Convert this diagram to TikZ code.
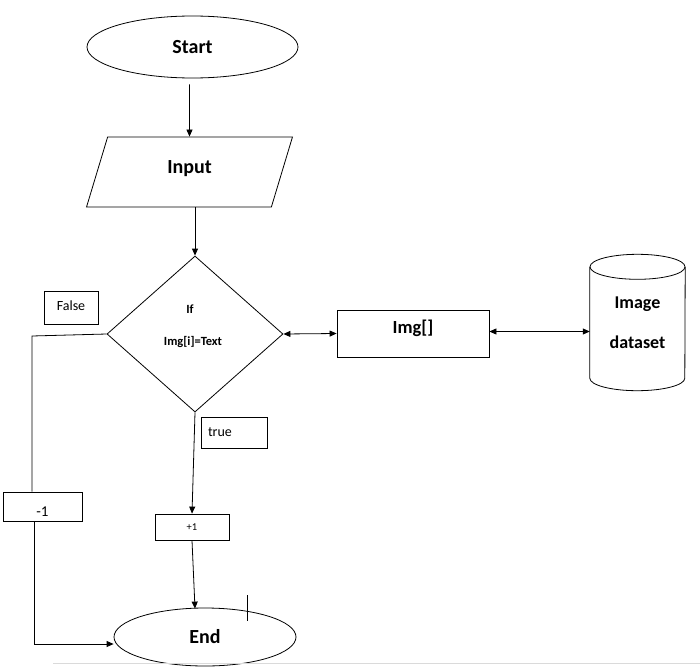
\documentclass[tikz,border=0pt]{standalone}
\usepackage{fontspec}
\setmainfont{Carlito}
\usetikzlibrary{arrows.meta,calc,shapes.geometric}
\definecolor{fcInk}{HTML}{000000}
\definecolor{fcRule}{HTML}{DADADA}
\tikzset{
 chart/.style={line cap=butt,line join=miter,text=fcInk},
 terminal/.style={ellipse,draw=fcInk,line width=.8pt,inner sep=0pt,
   font=\fontsize{20}{24}\selectfont\bfseries},
 iobox/.style={trapezium,trapezium left angle=76,trapezium right angle=104,
   trapezium stretches=true,draw=fcInk,line width=.8pt,inner sep=0pt,
   font=\fontsize{20}{24}\selectfont\bfseries},
 decision/.style={diamond,draw=fcInk,line width=.8pt,inner sep=0pt},
 condtext/.style={font=\fontsize{12.5}{15}\selectfont\bfseries,inner sep=0pt},
 process/.style={rectangle,draw=fcInk,line width=.8pt,inner sep=0pt,
   font=\fontsize{18.5}{22}\selectfont\bfseries},
 tag/.style={rectangle,draw=fcInk,line width=.8pt,inner sep=0pt,
   font=\fontsize{14}{16}\selectfont},
 store/.style={rectangle,inner sep=0pt,align=center,
   font=\fontsize{18}{40}\selectfont\bfseries},
 link/.style={draw=fcInk,line width=.8pt},
 flow/.style={link,-{Triangle[length=7pt,width=6pt]}},
 twoway/.style={link,{Triangle[length=7pt,width=6pt]}-{Triangle[length=7pt,width=6pt]}}
}

\begin{document}
\begin{tikzpicture}[chart,x=1pt,y=-1pt]
 \useasboundingbox (0,0) rectangle (700,671);
 % main column
 \node[terminal,minimum width=211,minimum height=62] (start) at (192.5,47) {\raisebox{1pt}{Start}};
 \node[iobox,minimum width=207,minimum height=70] (input) at (189.5,172) {\raisebox{10pt}{Input}};
 \node[decision,minimum width=176,minimum height=156] (cond) at (195,334) {};
 \node[condtext] (condIf) at (190,309) {If};
 \node[condtext] (condTest) at (193,342) {Img[i]=Text};
 \node[tag,minimum width=54,minimum height=33] (false) at (71,307.5) {\raisebox{3pt}{False}};
 \node[tag,minimum width=66,minimum height=31,text width=52,align=left] (true) at (234,432.5) {true};
 \node[tag,minimum width=79,minimum height=29,font=\fontsize{15}{18}\selectfont] (minus) at (42.5,506.5) {\smash{\raisebox{-9.5pt}{-1}}};
 \node[tag,minimum width=74,minimum height=26,font=\fontsize{10.5}{12}\selectfont] (plus) at (192,527) {+1};
 \node[terminal,minimum width=182,minimum height=58] (end) at (205,637) {End};
 % lookup side
 \node[process,minimum width=152,minimum height=47] (img) at (413,333.5) {\raisebox{14pt}{Img[]}};
 \node[store,minimum width=95,minimum height=136] (db) at (637.5,322.5) {Image\\dataset};
 \draw[link] ($(db.north west)+(0,12.5)$) -- ($(db.south west)+(0,-12.5)$)
   arc[start angle=180,end angle=0,x radius=47.5,y radius=12.5] -- ($(db.north east)+(0,12.5)$);
 \draw[link] ($(db.north)+(0,12.5)$) ellipse[x radius=47.5,y radius=12.5];
 % connectors
 \draw[flow] ($(start.south)+(-3,6)$) -- (input.north);
 \draw[flow] (cond.north |- input.south) -- (cond.north);
 \draw[twoway] (cond.east) -- (img.west);
 \draw[twoway] ($(img.east)+(0,-2)$) -- ($(db.west)+(0,9)$);
 \coordinate (fturn) at (32,336);
 \draw[link] (cond.west) -- (fturn) -- (fturn |- minus.north);
 \draw[flow] ($(minus.south)+(-8,0)$) |- ($(end.west)+(0,7)$);
 \draw[flow] (cond.south) -- (plus.north);
 \draw[flow] (plus.south) -- ($(end.north)+(-10,1)$);
 % cursor and page rule
 \draw[link,line width=.6pt] (247,595) -- (247,621);
 \draw[fcRule,line width=.8pt] (53,663) -- (700,663);
\end{tikzpicture}
\end{document}
